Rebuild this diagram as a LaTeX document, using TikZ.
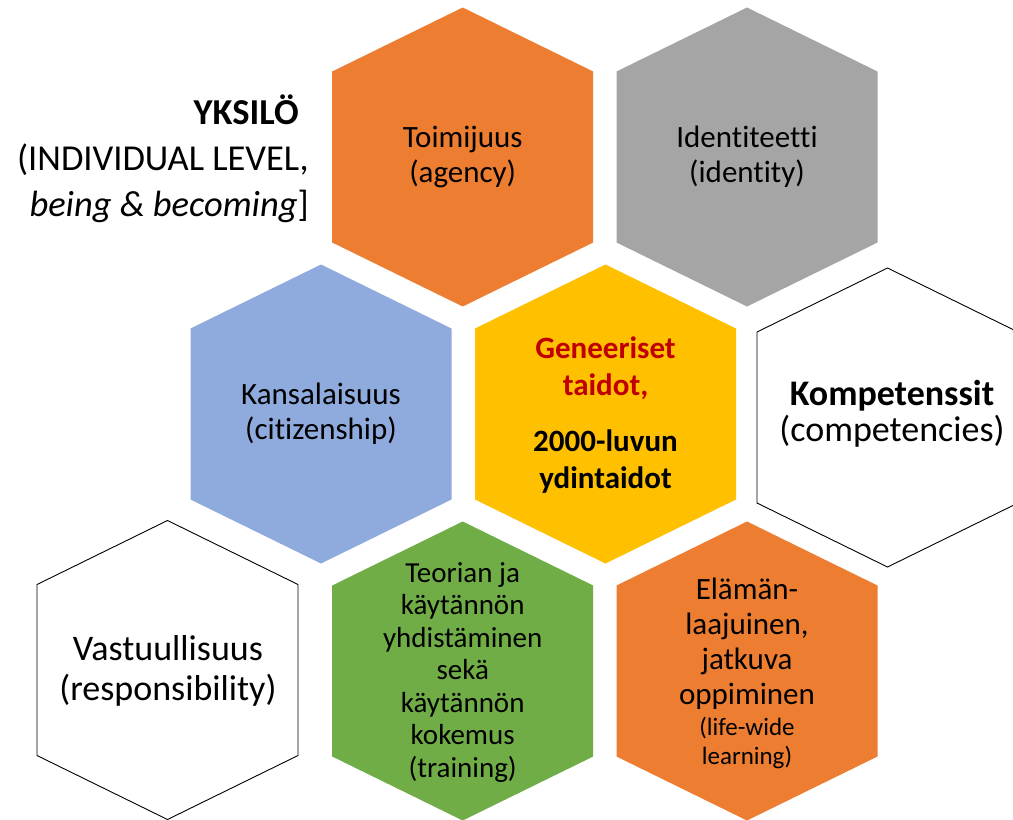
\documentclass[tikz,border=0pt]{standalone}
\usepackage{fontspec}
\setmainfont[Ligatures={NoCommon}]{Carlito}
\definecolor{hexorange}{HTML}{ED7D31}
\definecolor{hexgray}{HTML}{A5A5A5}
\definecolor{hexblue}{HTML}{8FAADC}
\definecolor{hexyellow}{HTML}{FFC000}
\definecolor{hexgreen}{HTML}{70AD47}
\definecolor{darkred}{HTML}{C00000}
\tikzset{
  hexfill/.style={fill=#1, draw=none},
  hexline/.style={draw=black, line width=0.9pt, fill=white},
  lbl/.style={align=center, inner sep=0pt, text=black, font=\fontsize{31}{35}\selectfont},
}
\newcommand{\hexshape}[3]{\path[#3] (#1,#2) ++(0,-149.5) -- ++(130.5,64) -- ++(0,171) -- ++(-130.5,64) -- ++(-130.5,-64) -- ++(0,-171) -- cycle;}
\begin{document}
\begin{tikzpicture}[x=1pt,y=-1pt]
\useasboundingbox (0,0) rectangle (1013,820);
\clip (0,0) rectangle (1013,820);
\fill[white] (0,0) rectangle (1013,820);
% hexagons
\hexshape{462.7}{157}{hexfill=hexorange}
\hexshape{747}{157}{hexfill=hexgray}
\hexshape{321}{414}{hexfill=hexblue}
\hexshape{605.5}{414}{hexfill=hexyellow}
\hexshape{887.5}{417.5}{hexline}
\hexshape{167.5}{670}{hexline}
\hexshape{462.7}{671}{hexfill=hexgreen}
\hexshape{747}{671}{hexfill=hexorange}
% labels
\node[lbl] (toim) at (462.7,157) {Toimijuus\\(agency)};
\node[lbl] (ident) at (747,157) {Identiteetti\\(identity)};
\node[lbl] (kans) at (321,414) {Kansalaisuus\\(citizenship)};
\node[lbl, font=\fontsize{31}{37}\selectfont\bfseries] (gen) at (605.5,415)
  {\textcolor{darkred}{Geneeriset}\\\textcolor{darkred}{taidot,}\\[19pt]2000-luvun\\ydintaidot};
\node[lbl, font=\fontsize{36}{36}\selectfont] (komp) at (892,414) {\textbf{Kompetenssit}\\(competencies)};
\node[lbl, font=\fontsize{36}{40}\selectfont] (vast) at (168,671) {Vastuullisuus\\(responsibility)};
\node[lbl, font=\fontsize{29}{32.5}\selectfont] (teor) at (462.7,672.5)
  {Teorian ja\\käytännön\\yhdistäminen\\sekä\\käytännön\\kokemus\\(training)};
\node[lbl] (elam) at (747,673)
  {Elämän-\\laajuinen,\\jatkuva\\oppiminen\\[-4pt]{\fontsize{25}{28}\selectfont (life-wide}\\[-6pt]{\fontsize{25}{28}\selectfont learning)}};
\node[lbl, align=right, anchor=east, font=\fontsize{36.5}{46}\selectfont] (yks) at (309,159)
  {\textbf{YKSILÖ}\rule{10pt}{0pt}\\(INDIVIDUAL LEVEL,\\\textit{being \& becoming}]};
\end{tikzpicture}
\end{document}
